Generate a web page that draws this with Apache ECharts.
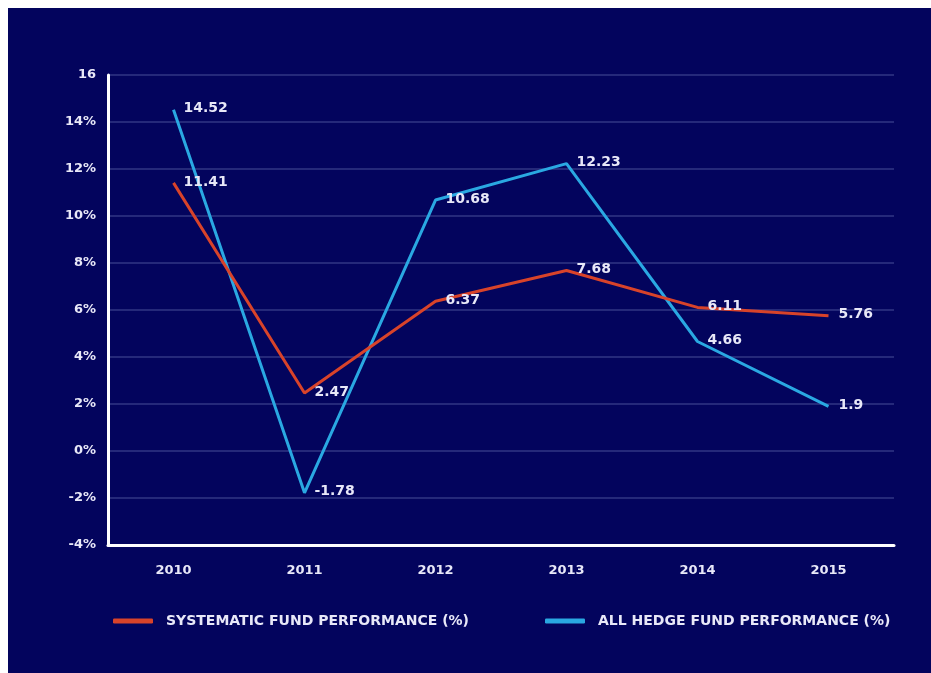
<!DOCTYPE html>
<html>
<head>
<meta charset="utf-8">
<script src="https://cdn.jsdelivr.net/npm/echarts@6/dist/echarts.min.js"></script>
<style>
  html, body { margin: 0; padding: 0; background: #ffffff; }
  #chart { position: absolute; left: 8px; top: 8px; width: 923px; height: 665px; background: #03045d; }
</style>
</head>
<body>
<div id="chart"></div>
<script>
// fund performance 2010-2015, in %
const years = ['2010', '2011', '2012', '2013', '2014', '2015']
const systematic = [11.41, 2.47, 6.37, 7.68, 6.11, 5.76]
const hedge = [14.52, -1.78, 10.68, 12.23, 4.66, 1.9]
const seriesNames = ['SYSTEMATIC FUND PERFORMANCE (%)', 'ALL HEDGE FUND PERFORMANCE (%)']

const FONT = 'DejaVu Sans'
const TEXT = '#e8e8f8'

const chart = echarts.init(document.getElementById('chart'), null, { renderer: 'canvas' })

const label = {
  show: true,
  position: 'right',
  distance: 10,
  offset: [0, -1],
  color: TEXT,
  fontFamily: FONT,
  fontWeight: 'bold',
  fontSize: 14,
}

const legendBase = {
  bottom: 40,
  icon: 'roundRect',
  itemWidth: 40,
  itemHeight: 5,
  textStyle: {
    color: TEXT,
    fontFamily: FONT,
    fontWeight: 'bold',
    fontSize: 14,
    padding: [0, 0, 0, 8],
  },
}

chart.setOption({
  backgroundColor: '#03045d',
  animation: false,
  legend: [
    { ...legendBase, left: 100, data: [seriesNames[0]] },
    { ...legendBase, left: 532, data: [seriesNames[1]] },
  ],
  grid: { left: 100, top: 67, width: 786, bottom: 128 },
  xAxis: {
    type: 'category',
    data: years,
    boundaryGap: true,
    axisLine: { onZero: false, lineStyle: { color: '#ffffff', width: 3 } },
    axisTick: { show: false },
    axisLabel: { color: TEXT, fontFamily: FONT, fontWeight: 'bold', fontSize: 13, margin: 19 },
  },
  yAxis: {
    type: 'value',
    min: -4,
    max: 16,
    interval: 2,
    axisLine: { show: true, onZero: false, lineStyle: { color: '#ffffff', width: 3 } },
    axisTick: { show: false },
    axisLabel: {
      color: TEXT,
      fontFamily: FONT,
      fontWeight: 'bold',
      fontSize: 13,
      margin: 12,
      formatter: (v) => (v === 16 ? '16' : v + '%'),
    },
    splitLine: { lineStyle: { color: '#25297a', width: 2 } },
  },
  series: [
    {
      name: seriesNames[0],
      type: 'line',
      data: systematic,
      symbol: 'circle',
      symbolSize: 0,
      showSymbol: true,
      lineStyle: { color: '#d8432a', width: 3 },
      itemStyle: { color: '#d8432a' },
      label,
      z: 3,
    },
    {
      name: seriesNames[1],
      type: 'line',
      data: hedge,
      symbol: 'circle',
      symbolSize: 0,
      showSymbol: true,
      lineStyle: { color: '#2aa8e2', width: 3 },
      itemStyle: { color: '#2aa8e2' },
      label,
      z: 2,
    },
  ],
})
</script>
</body>
</html>
